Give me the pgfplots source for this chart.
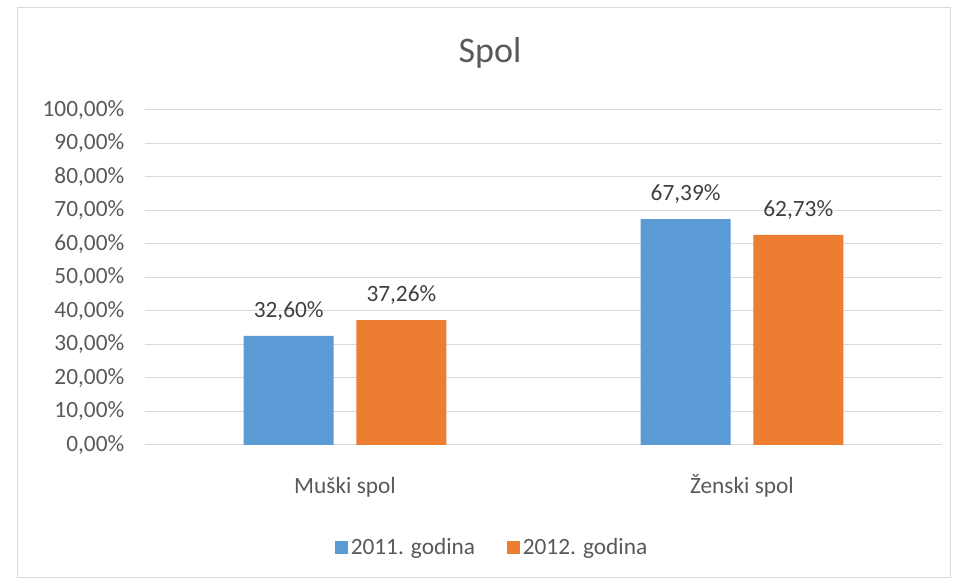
\documentclass[border=0pt]{standalone}
\usepackage{pgfplots}
\pgfplotsset{compat=1.18}
\usepackage{fontspec}
\setmainfont{Carlito}
\definecolor{barblue}{HTML}{5B9BD5}
\definecolor{barorange}{HTML}{ED7D31}
\definecolor{txtgray}{HTML}{595959}
\definecolor{gridgray}{HTML}{D9D9D9}
\begin{document}
\begin{tikzpicture}
% picture bounds and outer frame (1px = 0.75pt, origin at plot bottom-left)
\path[use as bounding box] (-108.75pt,-101.25pt) rectangle (609.75pt,333.75pt);
\draw[gridgray, line width=0.75pt] (-95.25pt,-99.75pt) rectangle (603.75pt,327.75pt);
\begin{axis}[
    at={(0pt,0pt)}, anchor=south west,
    scale only axis,
    width=597.75pt, height=251.25pt,
    xmin=-0.504, xmax=1.504,
    ymin=0, ymax=100,
    axis x line*=bottom,
    axis y line*=left,
    x axis line style={gridgray, line width=0.75pt, -},
    y axis line style={draw=none},
    ymajorgrids=true,
    grid style={gridgray, line width=0.75pt},
    ytick={0,10,20,30,40,50,60,70,80,90,100},
    yticklabels={{0,00\%},{10,00\%},{20,00\%},{30,00\%},{40,00\%},{50,00\%},{60,00\%},{70,00\%},{80,00\%},{90,00\%},{100,00\%}},
    xtick={0,1},
    xticklabels={Muški spol,Ženski spol},
    major tick length=0pt,
    tick label style={font=\fontsize{17.5pt}{20pt}\selectfont, text=txtgray},
    yticklabel style={xshift=-12pt},
    xticklabel style={yshift=-20pt, text height=13pt, text depth=4pt},
    ybar,
    bar width=0.227,
    nodes near coords={\pgfmathprintnumber[fixed,fixed zerofill,precision=2,use comma,assume math mode=true]{\pgfplotspointmeta}\%},
    every node near coord/.append style={font=\fontsize{17.5pt}{20pt}\selectfont, text=black!75, yshift=8pt},
    legend columns=2,
    legend style={draw=none, at={(0.436,-0.307)}, anchor=center,
        font=\fontsize{17.5pt}{20pt}\selectfont, text=txtgray,
        /tikz/every even column/.append style={column sep=22pt}},
    legend image code/.code={\fill[#1] (0pt,-4.9pt) rectangle (9.75pt,4.9pt);},
    clip=false,
]
\addplot[fill=barblue, draw=none, bar shift=-0.142] coordinates {(0,32.60) (1,67.39)};
\addlegendentry{2011. godina}
\addplot[fill=barorange, draw=none, bar shift=0.142] coordinates {(0,37.26) (1,62.73)};
\addlegendentry{2012. godina}
\end{axis}
\node[font=\fontsize{27pt}{32pt}\selectfont, text=txtgray] at (258.75pt,294pt) {Spol};
\end{tikzpicture}
\end{document}
